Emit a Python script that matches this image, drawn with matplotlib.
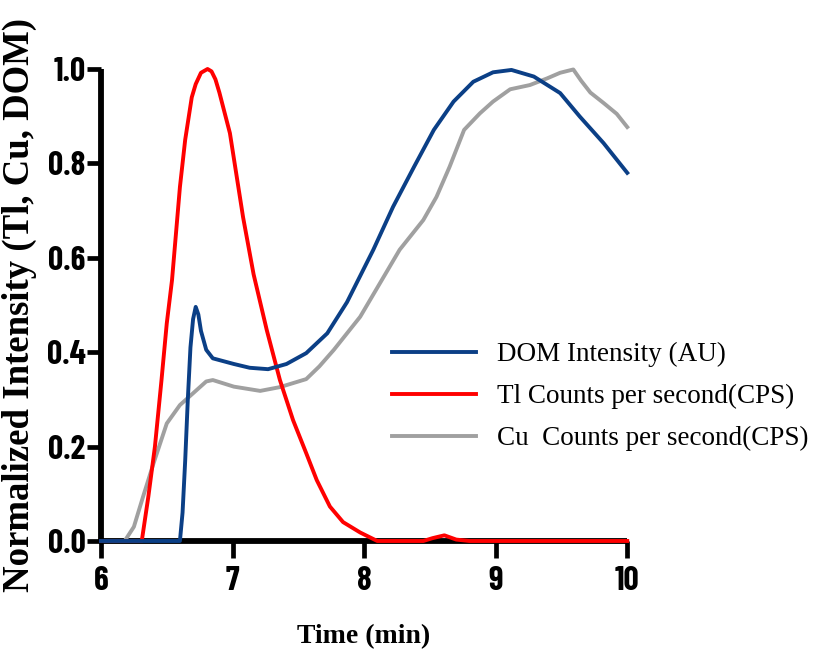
import matplotlib
matplotlib.use("Agg")
import matplotlib.pyplot as plt

# time axis (min) and normalized intensities
dom_time = [6.0, 6.60, 6.62, 6.64, 6.66, 6.68, 6.70, 6.72, 6.74, 6.76, 6.80, 6.85,
            7.01, 7.13, 7.27, 7.41, 7.56, 7.72, 7.87, 8.07, 8.22, 8.38, 8.53,
            8.68, 8.83, 8.98, 9.12, 9.29, 9.49, 9.64, 9.82, 10.0]
dom_int = [0.0, 0.0, 0.06, 0.17, 0.30, 0.41, 0.47, 0.496, 0.48, 0.445, 0.405, 0.387,
           0.375, 0.367, 0.364, 0.375, 0.398, 0.44, 0.506, 0.617, 0.708, 0.793, 0.871,
           0.931, 0.973, 0.993, 0.998, 0.984, 0.949, 0.899, 0.843, 0.78]

tl_time = [6.0, 6.31, 6.36, 6.41, 6.46, 6.50, 6.54, 6.60, 6.64, 6.69, 6.72, 6.76, 6.81,
           6.84, 6.87, 6.90, 6.98, 7.08, 7.16, 7.26, 7.36, 7.46, 7.56, 7.64, 7.74,
           7.84, 7.97, 8.10, 8.45, 8.52, 8.61, 8.70, 8.80, 10.0]
tl_cps = [0.0, 0.0, 0.094, 0.2, 0.341, 0.461, 0.553, 0.75, 0.85, 0.94, 0.968, 0.992, 1.0,
          0.995, 0.978, 0.95, 0.864, 0.686, 0.565, 0.447, 0.341, 0.256, 0.186, 0.129, 0.073,
          0.040, 0.018, 0.0, 0.0, 0.006, 0.012, 0.003, 0.0, 0.0]

cu_time = [6.0, 6.18, 6.25, 6.32, 6.40, 6.50, 6.60, 6.70, 6.80, 6.85, 7.01, 7.21,
           7.36, 7.56, 7.66, 7.77, 7.97, 8.12, 8.27, 8.45, 8.55, 8.65, 8.76, 8.88,
           8.98, 9.11, 9.26, 9.39, 9.49, 9.59, 9.65, 9.72, 9.82, 9.92, 10.0]
cu_cps = [0.0, 0.0, 0.03, 0.094, 0.165, 0.249, 0.288, 0.313, 0.338, 0.341, 0.327, 0.318,
          0.326, 0.343, 0.37, 0.405, 0.475, 0.546, 0.617, 0.68, 0.729, 0.793, 0.871, 0.906,
          0.931, 0.957, 0.966, 0.98, 0.992, 0.999, 0.975, 0.95, 0.928, 0.905, 0.877]

x_ticks = [6, 7, 8, 9, 10]
y_ticks = [0.0, 0.2, 0.4, 0.6, 0.8, 1.0]

tick_font = ['Barlow Condensed', 'Liberation Sans']
serif_font = ['Liberation Serif', 'DejaVu Serif']

fig = plt.figure(figsize=(8.21, 6.54), dpi=100)
ax = fig.add_axes([0.123, 0.1728, 0.641, 0.7217])

lw = 2.8
cu_line, = ax.plot(cu_time, cu_cps, color='#a0a0a0', lw=lw, zorder=3, clip_on=False)
tl_line, = ax.plot(tl_time, tl_cps, color='#ff0000', lw=lw, zorder=4, clip_on=False)
dom_line, = ax.plot(dom_time, dom_int, color='#0b3f86', lw=lw, zorder=5, clip_on=False)

ax.set_xlim(6, 10)
ax.set_ylim(0, 1.0)
ax.set_xticks(x_ticks)
ax.set_yticks(y_ticks)
ax.set_xticklabels([str(t) for t in x_ticks])
ax.set_yticklabels([f"{t:.1f}" for t in y_ticks])

for side in ['top', 'right']:
    ax.spines[side].set_visible(False)
for side in ['left', 'bottom']:
    ax.spines[side].set_linewidth(4.2)
    ax.spines[side].set_capstyle('butt')

ax.tick_params(axis='x', length=12, width=3.4, pad=6, direction='out')
ax.tick_params(axis='y', length=10, width=3.4, pad=1, direction='out')
for lab in ax.get_xticklabels() + ax.get_yticklabels():
    lab.set_family(tick_font)
    lab.set_fontweight('bold')
    lab.set_fontsize(24)

ax.set_xlabel('Time (min)', family=serif_font, fontweight='bold', fontsize=20, labelpad=20)
ax.set_ylabel('Normalized Intensity (Tl, Cu, DOM)', family=serif_font,
              fontweight='bold', fontsize=26.5, labelpad=7)

leg = fig.legend([dom_line, tl_line, cu_line],
                 ['DOM Intensity (AU)', 'Tl Counts per second(CPS)', 'Cu  Counts per second(CPS)'],
                 loc='upper left', bbox_to_anchor=(0.478, 0.477), frameon=False,
                 prop={'family': serif_font, 'size': 19.5},
                 handlelength=3.1, handletextpad=0.75, labelspacing=0.62, borderpad=0,
                 borderaxespad=0)

fig.savefig('out.png', dpi=100)
